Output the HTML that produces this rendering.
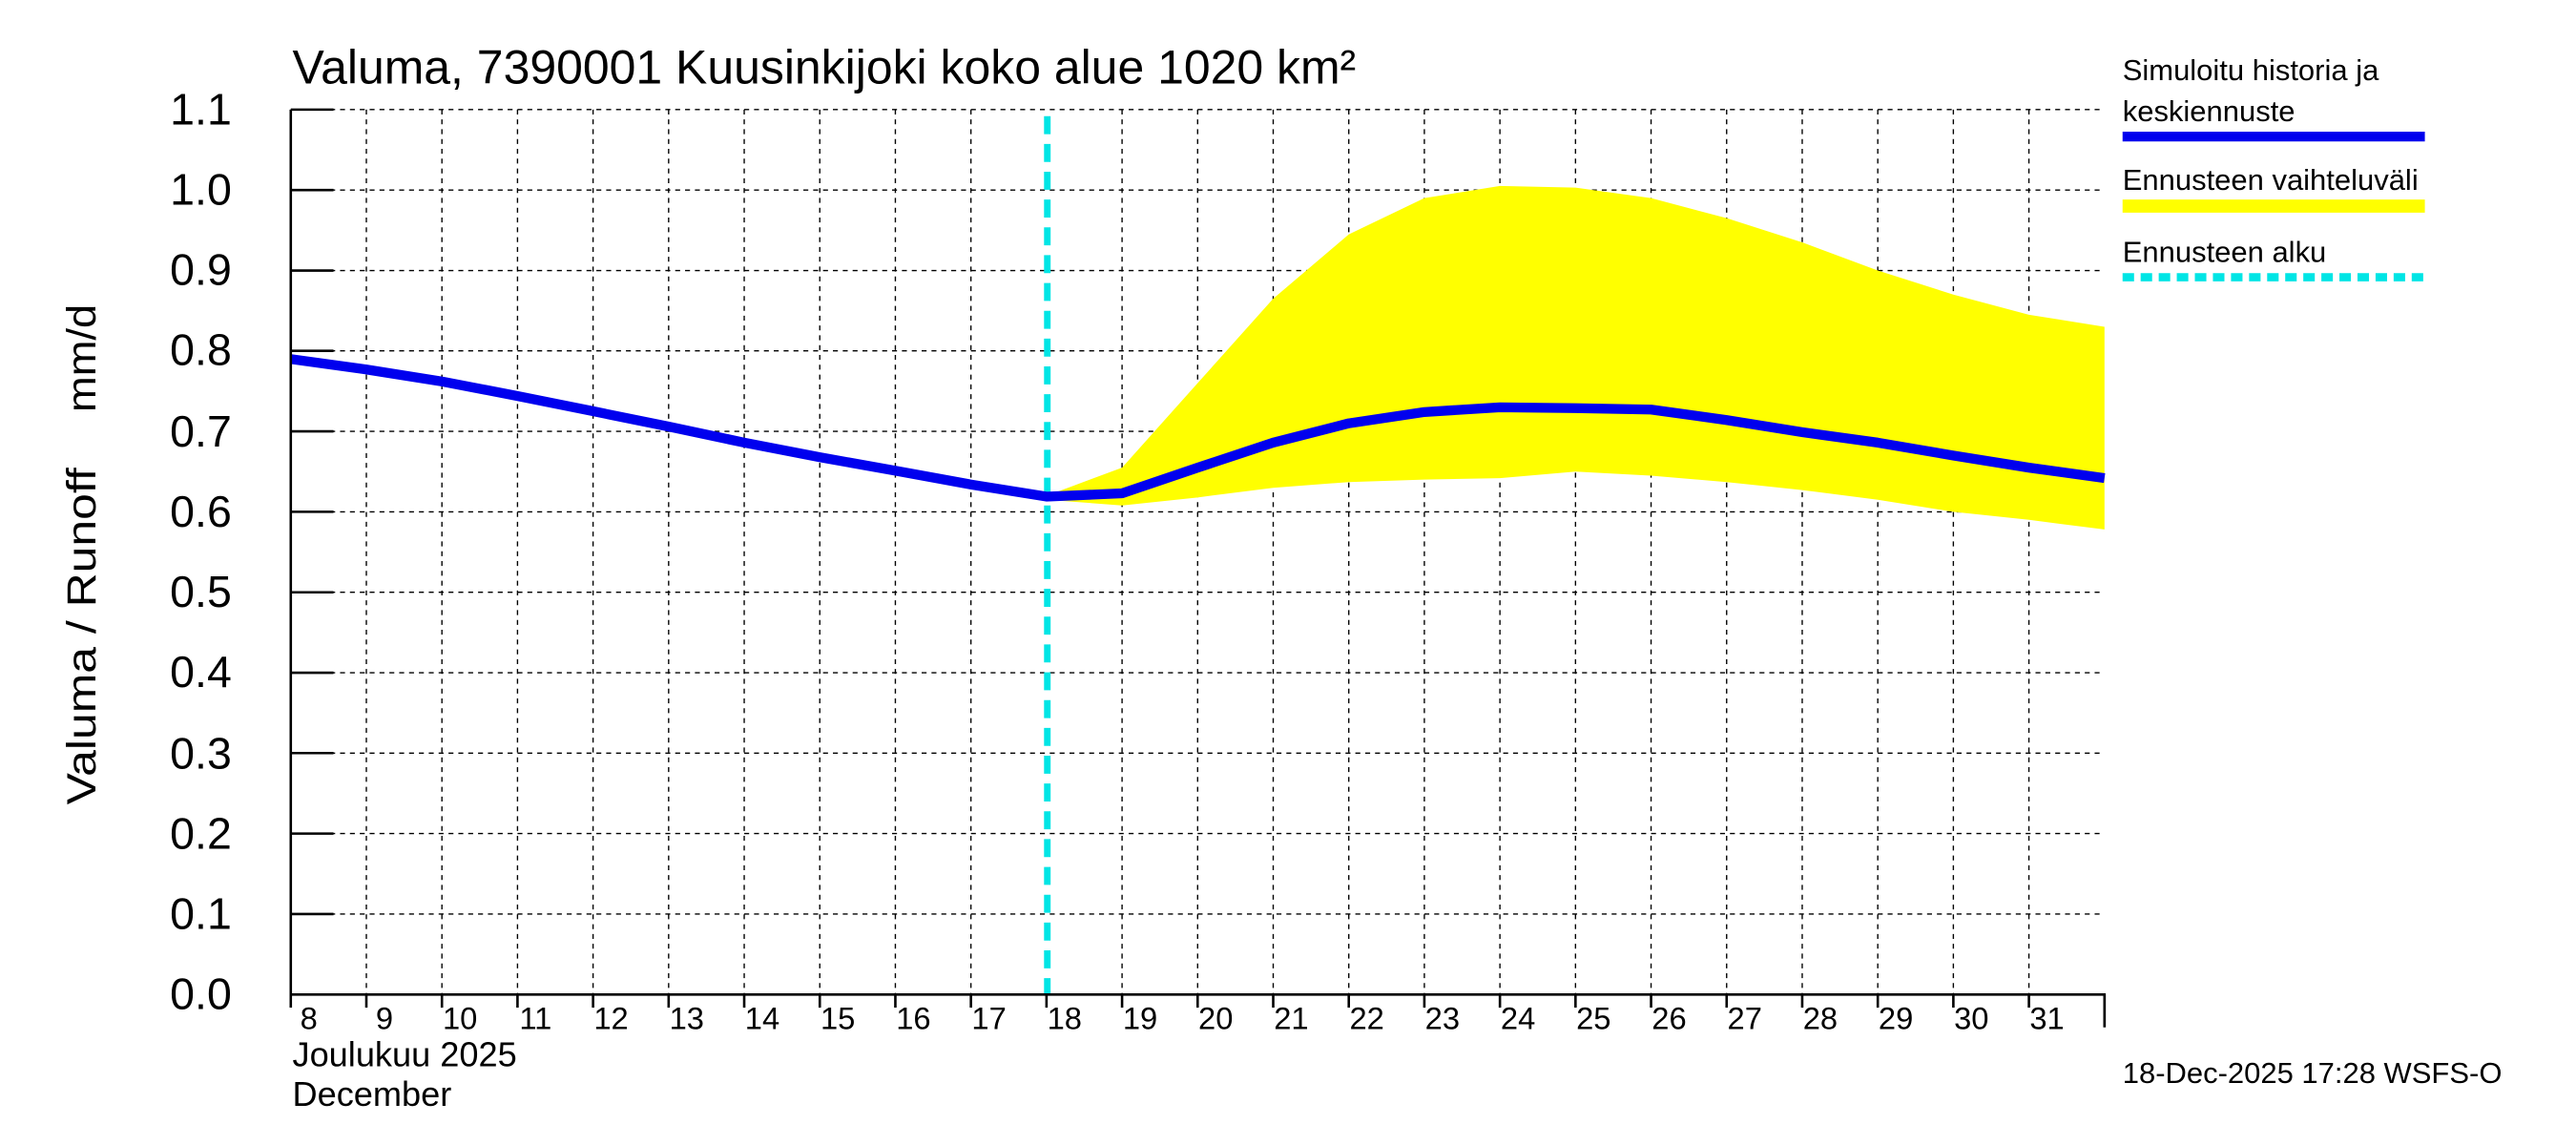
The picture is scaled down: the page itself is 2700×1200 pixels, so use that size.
<!DOCTYPE html>
<html><head><style>
html,body{margin:0;padding:0;background:#fff;}
svg{display:block;}
text{font-family:"Liberation Sans",sans-serif;fill:#000;}
</style></head><body>
<svg width="2700" height="1200" viewBox="0 0 1568 700" preserveAspectRatio="none" xmlns="http://www.w3.org/2000/svg">
<rect width="1568" height="700" fill="#fff"/>
<text x="178" y="51" font-size="29">Valuma, 7390001 Kuusinkijoki koko alue 1020 km²</text>
<g id="grid" stroke="#000" stroke-width="0.8" stroke-dasharray="3,3" fill="none">
<path d="M177 67H1281M177 116.2H1281M177 165.4H1281M177 214.5H1281M177 263.7H1281M177 312.9H1281M177 362.1H1281M177 411.3H1281M177 460.4H1281M177 509.6H1281M177 558.8H1281"/>
<path d="M223 67V608M269 67V608M315 67V608M361 67V608M407 67V608M453 67V608M499 67V608M545 67V608M591 67V608M683 67V608M729 67V608M775 67V608M821 67V608M867 67V608M913 67V608M959 67V608M1005 67V608M1051 67V608M1097 67V608M1143 67V608M1189 67V608M1235 67V608"/>
</g>
<polygon fill="#ffff00" points="637,303.1 683,285.9 729,234.2 775,182.6 821,143.3 867,121.1 913,113.7 959,114.7 1005,121.1 1051,133.4 1097,148.2 1143,165.4 1189,180.1 1235,192.4 1281,199.8 1281,323.7 1235,317.8 1189,312.9 1143,305.5 1097,299.6 1051,294.7 1005,290.8 959,288.3 913,292.3 867,293.2 821,294.7 775,298.2 729,304.1 683,309 637,305.5"/>
<line x1="637.5" y1="71" x2="637.5" y2="608" stroke="#00e5e5" stroke-width="4" stroke-dasharray="11,6"/>
<polyline fill="none" stroke="#0000ee" stroke-width="6" stroke-linejoin="round" points="177,219.5 223,225.9 269,233.2 315,242.1 361,251.4 407,260.8 453,270.6 499,279.5 545,287.8 591,296.2 637,303.6 683,301.6 729,285.9 775,270.6 821,258.8 867,251.9 913,249 959,249.5 1005,250.4 1051,256.8 1097,264.2 1143,270.6 1189,278.5 1235,285.9 1281,292.3"/>
<g stroke="#000" stroke-width="1.5" fill="none">
<path d="M177 67V608H1281V628"/>
<path d="M177 67H203M177 116.2H203M177 165.4H203M177 214.5H203M177 263.7H203M177 312.9H203M177 362.1H203M177 411.3H203M177 460.4H203M177 509.6H203M177 558.8H203"/>
<path d="M177 608V616M223 608V616M269 608V616M315 608V616M361 608V616M407 608V616M453 608V616M499 608V616M545 608V616M591 608V616M637 608V616M683 608V616M729 608V616M775 608V616M821 608V616M867 608V616M913 608V616M959 608V616M1005 608V616M1051 608V616M1097 608V616M1143 608V616M1189 608V616M1235 608V616M1281 608V628"/>
</g>
<g font-size="27" text-anchor="end">
<text x="141" y="76">1.1</text><text x="141" y="125">1.0</text><text x="141" y="174">0.9</text><text x="141" y="223">0.8</text><text x="141" y="273">0.7</text><text x="141" y="322">0.6</text><text x="141" y="371">0.5</text><text x="141" y="420">0.4</text><text x="141" y="470">0.3</text><text x="141" y="519">0.2</text><text x="141" y="568">0.1</text><text x="141" y="617">0.0</text>
</g>
<text transform="translate(58,492) rotate(-90)" font-size="25" textLength="206" lengthAdjust="spacingAndGlyphs">Valuma / Runoff</text>
<text transform="translate(58,252) rotate(-90)" font-size="25" textLength="66" lengthAdjust="spacingAndGlyphs">mm/d</text>
<g font-size="19" text-anchor="middle">
<text x="188" y="629">8</text><text x="234" y="629">9</text><text x="280" y="629">10</text><text x="326" y="629">11</text><text x="372" y="629">12</text><text x="418" y="629">13</text><text x="464" y="629">14</text><text x="510" y="629">15</text><text x="556" y="629">16</text><text x="602" y="629">17</text><text x="648" y="629">18</text><text x="694" y="629">19</text><text x="740" y="629">20</text><text x="786" y="629">21</text><text x="832" y="629">22</text><text x="878" y="629">23</text><text x="924" y="629">24</text><text x="970" y="629">25</text><text x="1016" y="629">26</text><text x="1062" y="629">27</text><text x="1108" y="629">28</text><text x="1154" y="629">29</text><text x="1200" y="629">30</text><text x="1246" y="629">31</text>
</g>
<text x="178" y="652" font-size="21">Joulukuu  2025</text>
<text x="178" y="676" font-size="21">December</text>
<g font-size="18">
<text x="1292" y="49">Simuloitu historia ja</text>
<text x="1292" y="74">keskiennuste</text>
<text x="1292" y="116">Ennusteen vaihteluväli</text>
<text x="1292" y="160">Ennusteen alku</text>
<text x="1292" y="662">18-Dec-2025 17:28 WSFS-O</text>
</g>
<line x1="1292" y1="83.5" x2="1476" y2="83.5" stroke="#0000ee" stroke-width="6"/>
<line x1="1292" y1="126" x2="1476" y2="126" stroke="#ffff00" stroke-width="8"/>
<line x1="1292" y1="169.5" x2="1476" y2="169.5" stroke="#00e5e5" stroke-width="5" stroke-dasharray="7,4"/>
</svg>
</body></html>
